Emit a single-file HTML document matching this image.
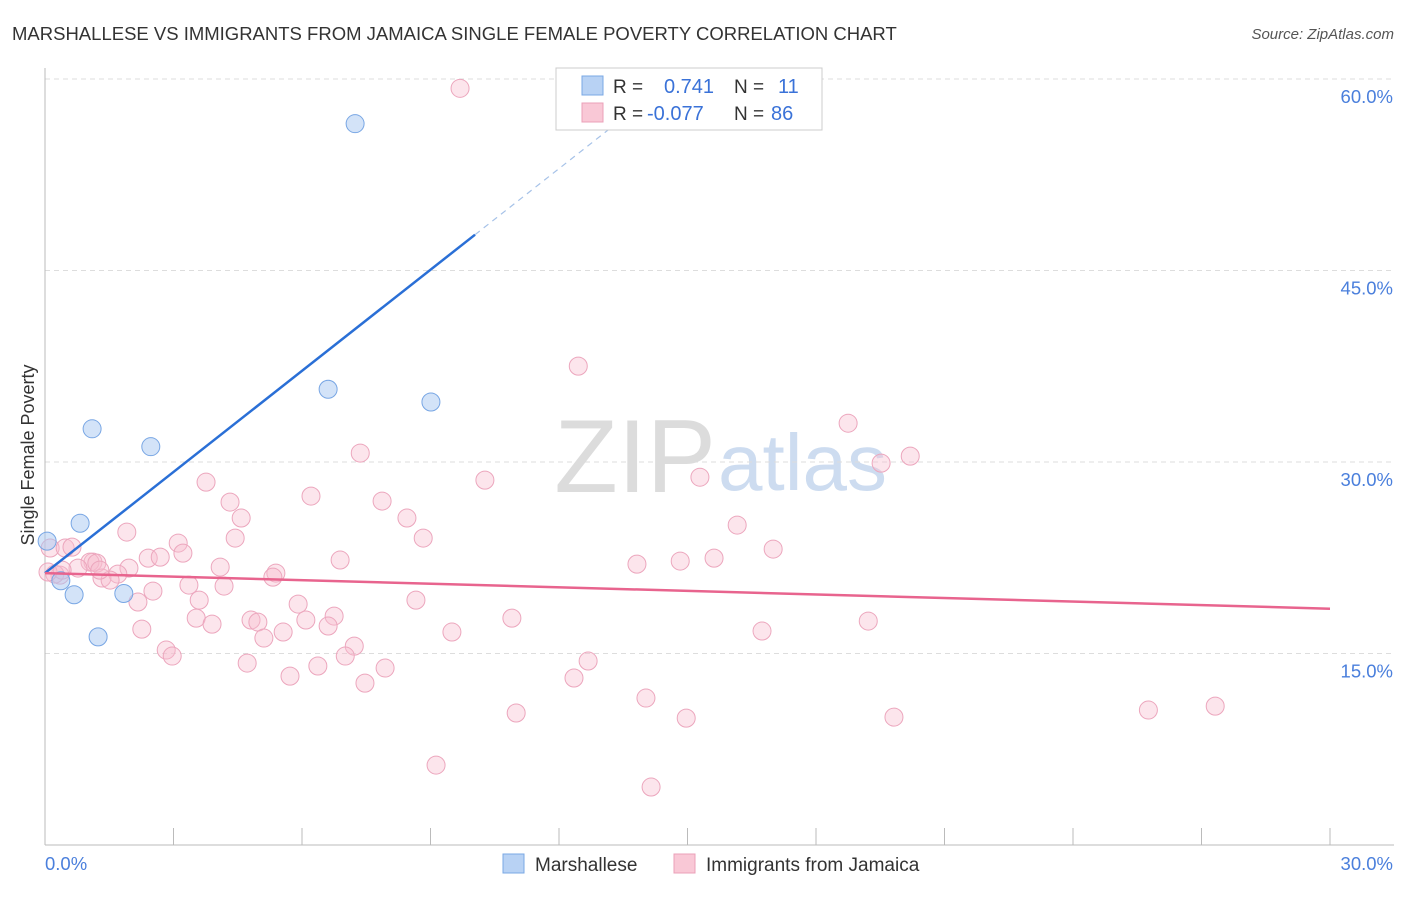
<!DOCTYPE html>
<html><head><meta charset="utf-8"><style>
body{margin:0;background:#fff;font-family:"Liberation Sans",sans-serif}
svg text{font-family:"Liberation Sans",sans-serif}
</style></head><body>
<svg id="c" width="1406" height="892">
<text x="12" y="40" font-size="18.5" fill="#333">MARSHALLESE VS IMMIGRANTS FROM JAMAICA SINGLE FEMALE POVERTY CORRELATION CHART</text>
<text x="1394" y="39" font-size="15" fill="#555" text-anchor="end" font-style="italic">Source: ZipAtlas.com</text>
<text x="716" y="492" font-size="104" fill="#dcdcdc" text-anchor="end" font-family="Liberation Serif">ZIP</text>
<text x="718" y="490" font-size="80" fill="#cddcf0">atlas</text>
<g id="grid"></g><g id="axes"></g><g id="pts"></g><g id="lines"></g>
<text transform="translate(34,455) rotate(-90)" font-size="18" fill="#333" text-anchor="middle">Single Female Poverty</text>
<g>
<rect x="556" y="68" width="266" height="62" fill="#fff" stroke="#ccc"/>
<rect x="582" y="76" width="21" height="19" fill="#b8d2f4" stroke="#7aa8e4"/>
<rect x="582" y="103" width="21" height="19" fill="#f9c8d6" stroke="#eba0b8"/>
<text x="613" y="93" font-size="19" fill="#333">R =</text><text x="664" y="93" font-size="20" fill="#3a72d8">0.741</text>
<text x="734" y="93" font-size="19" fill="#333">N =</text><text x="778" y="93" font-size="20" fill="#3a72d8">11</text>
<text x="613" y="120" font-size="19" fill="#333">R =</text><text x="647" y="120" font-size="20" fill="#3a72d8">-0.077</text>
<text x="734" y="120" font-size="19" fill="#333">N =</text><text x="771" y="120" font-size="20" fill="#3a72d8">86</text>
</g>
<g>
<rect x="503" y="854" width="21" height="19" fill="#b8d2f4" stroke="#7aa8e4"/>
<text x="535" y="871" font-size="19" fill="#333">Marshallese</text>
<rect x="674" y="854" width="21" height="19" fill="#f9c8d6" stroke="#eba0b8"/>
<text x="706" y="871" font-size="19" fill="#333">Immigrants from Jamaica</text>
</g>
</svg>
<script>
const yTicks=[15,30,45,60];
const yTickLabels=["15.0%","30.0%","45.0%","60.0%"];
const xTickLabels=["0.0%","30.0%"];
const blueX=[0.05,0.37,0.68,0.82,1.10,1.24,1.84,2.47,6.61,7.24,9.01];
const blueY=[23.8,20.7,19.6,25.2,32.6,16.3,19.7,31.2,35.7,56.5,34.7];
const pinkX=[9.69,12.45,18.75,19.52,20.20,15.29,10.27,7.36,3.76,6.21,4.32,7.87,4.58,8.45,16.16,1.91,4.44,8.83,3.11,3.22,17.00,2.41,2.69,6.89,13.82,14.83,15.62,1.12,1.05,1.21,0.77,1.96,4.09,5.39,5.32,1.70,0.35,0.23,1.33,1.52,3.36,4.18,2.52,8.66,2.17,3.60,5.91,6.75,10.90,3.53,6.09,4.81,4.97,3.90,6.61,19.22,5.56,16.74,2.26,9.50,5.11,7.22,2.83,2.97,7.01,12.68,4.72,6.37,7.94,12.35,5.72,7.47,14.03,11.00,14.97,19.82,25.76,27.32,9.13,14.15,0.12,0.47,0.63,0.07,0.40,1.28];
const pinkY=[59.27,37.51,33.04,29.91,30.46,28.81,28.58,30.70,28.42,27.33,26.86,26.94,25.61,25.61,25.06,24.51,24.04,24.04,23.65,22.86,23.18,22.47,22.55,22.32,22.00,22.24,22.47,22.16,22.16,22.08,21.69,21.69,21.77,21.30,20.98,21.22,21.14,21.22,20.91,20.75,20.36,20.28,19.89,19.18,19.03,19.18,18.87,17.93,17.77,17.77,17.62,17.62,17.46,17.30,17.15,17.54,16.68,16.76,16.91,16.68,16.21,15.58,15.27,14.80,14.80,14.41,14.25,14.02,13.86,13.08,13.23,12.68,11.51,10.34,9.94,10.02,10.57,10.88,6.26,4.54,23.26,23.26,23.33,21.38,21.53,21.53];
const blueFit=[21.3,2.64];
const pinkFit=[21.3,-0.093];
const NS="http://www.w3.org/2000/svg";
const X=v=>45+v/30*1285, Y=v=>845-v/15*191.5;
function mk(p,t,a){const e=document.createElementNS(NS,t);for(const k in a)e.setAttribute(k,a[k]);p.appendChild(e);return e;}
const grid=document.getElementById('grid'),axes=document.getElementById('axes'),lines=document.getElementById('lines'),pts=document.getElementById('pts');
yTicks.forEach((t,i)=>{
 const g=mk(grid,'line',{x1:45,x2:1394,y1:Y(t),y2:Y(t),stroke:'#ddd','stroke-dasharray':'5,4'});
 
 
 const l=mk(axes,'text',{x:1393,y:Y(t)+24,'font-size':18.5,fill:'#4a7fdc','text-anchor':'end'});l.textContent=yTickLabels[i];
 
 
});
const ax=mk(axes,'line',{x1:45,x2:45,y1:68,y2:845,stroke:'#bbb'});


const bx=mk(axes,'line',{x1:45,x2:1394,y1:845,y2:845,stroke:'#bbb'});


for(let i=0;i<=10;i++){const t=mk(axes,'line',{x1:X(i*3),x2:X(i*3),y1:828,y2:845,stroke:'#bbb'});
 
 }
[[0,'start',45],[30,'end',1393]].forEach((d,i)=>{const l=mk(axes,'text',{x:d[2],y:870,'font-size':18.5,fill:'#4a7fdc','text-anchor':d[1]});l.textContent=xTickLabels[i];
 
 });
function pt(x,y,f,s,n){const c=mk(pts,'circle',{cx:X(x),cy:Y(y),r:9,fill:f,stroke:s,'stroke-width':1});
 
 }
pinkX.forEach((x,i)=>pt(x,pinkY[i],'rgba(248,190,208,0.4)','#eca6bd','jamaica-point'));
blueX.forEach((x,i)=>pt(x,blueY[i],'rgba(168,200,242,0.5)','#78a6e4','marshallese-point'));
const bEnd=10.04,bDash=(60-blueFit[0])/blueFit[1];
const l1=mk(lines,'line',{x1:X(0),y1:Y(blueFit[0]),x2:X(bEnd),y2:Y(blueFit[0]+blueFit[1]*bEnd),stroke:'#2a6fd6','stroke-width':2.5});


const l2=mk(lines,'line',{x1:X(bEnd),y1:Y(blueFit[0]+blueFit[1]*bEnd),x2:X(bDash),y2:Y(60),stroke:'#a6c2e8','stroke-width':1.2,'stroke-dasharray':'6,5'});


const l3=mk(lines,'line',{x1:X(0),y1:Y(pinkFit[0]),x2:X(30),y2:Y(pinkFit[0]+pinkFit[1]*30),stroke:'#e8648e','stroke-width':2.5});


</script>
</body></html>
